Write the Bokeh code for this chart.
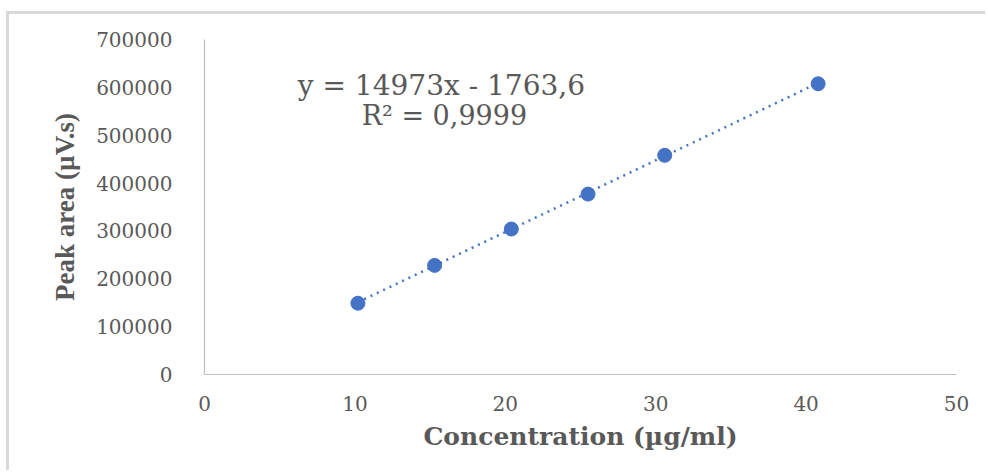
from bokeh.plotting import figure
from bokeh.models import Range1d, FixedTicker, PrintfTickFormatter, Label
from bokeh.embed import file_html
from bokeh.resources import INLINE

# Data
concentration = [10.2, 15.3, 20.4, 25.5, 30.6, 40.8]
peak_area = [149000, 228000, 304000, 377000, 458000, 607500]
slope = 14973
intercept = -1763.6
x_ticks = [0, 10, 20, 30, 40, 50]
y_ticks = [0, 100000, 200000, 300000, 400000, 500000, 600000, 700000]
eq_text = "y = 14973x - 1763,6"
r2_text = "R² = 0,9999"

BLUE = "#4472C4"
GRAY_TXT = "#595959"
AXIS_CLR = "#BFBFBF"

W, H = 979, 459
p = figure(width=W, height=H, output_backend="svg", toolbar_location=None,
           x_range=Range1d(0, 50), y_range=Range1d(0, 700000),
           min_border_left=195, min_border_right=32, min_border_top=25, min_border_bottom=99)
p.outline_line_color = None
p.xgrid.visible = False
p.ygrid.visible = False
p.styles = {"border-top": "3px solid #d9d9d9", "border-left": "3px solid #d9d9d9",
            "margin-left": "6px", "margin-top": "11px"}

# Trendline
tx = [min(concentration), max(concentration)]
ty = [slope * v + intercept for v in tx]
p.line(tx, ty, line_color=BLUE, line_width=2.5, line_dash="2 5")

# Points
p.scatter(concentration, peak_area, size=14, fill_color=BLUE, line_color=BLUE)

for ax in (p.xaxis[0], p.yaxis[0]):
    ax.axis_line_color = AXIS_CLR
    ax.axis_line_width = 1.2
    ax.major_tick_line_color = None
    ax.minor_tick_line_color = None
    ax.major_label_text_color = GRAY_TXT
    ax.major_label_text_font = "DejaVu Serif"
    ax.major_label_text_font_size = "20px"
    ax.axis_label_text_color = GRAY_TXT
    ax.axis_label_text_font_style = "bold"

p.xaxis.ticker = FixedTicker(ticks=x_ticks)
p.yaxis.ticker = FixedTicker(ticks=y_ticks)
p.yaxis.formatter = PrintfTickFormatter(format="%d")
p.xaxis.formatter = PrintfTickFormatter(format="%d")

p.xaxis.axis_label = "Concentration (µg/ml)"
p.xaxis.axis_label_text_font = "DejaVu Serif"
p.xaxis.axis_label_text_font_size = "25px"
p.xaxis.major_label_standoff = 15
p.xaxis.axis_label_standoff = 8

p.yaxis.axis_label = "Peak area (µV.s)"
p.yaxis.axis_label_text_font = "Liberation Serif"
p.yaxis.axis_label_text_font_size = "27px"
p.yaxis.major_label_standoff = 26
p.yaxis.axis_label_standoff = 13

# Trendline annotation placed in data coordinates
p.add_layout(Label(x=15.75, y=604000, text=eq_text,
                   text_font="DejaVu Serif", text_font_size="28px", text_color=GRAY_TXT,
                   text_align="center", text_baseline="middle"))
p.add_layout(Label(x=15.95, y=541000, text=r2_text,
                   text_font="DejaVu Serif", text_font_size="27px", text_color=GRAY_TXT,
                   text_align="center", text_baseline="middle"))

open("out.html", "w").write(file_html(p, INLINE))
